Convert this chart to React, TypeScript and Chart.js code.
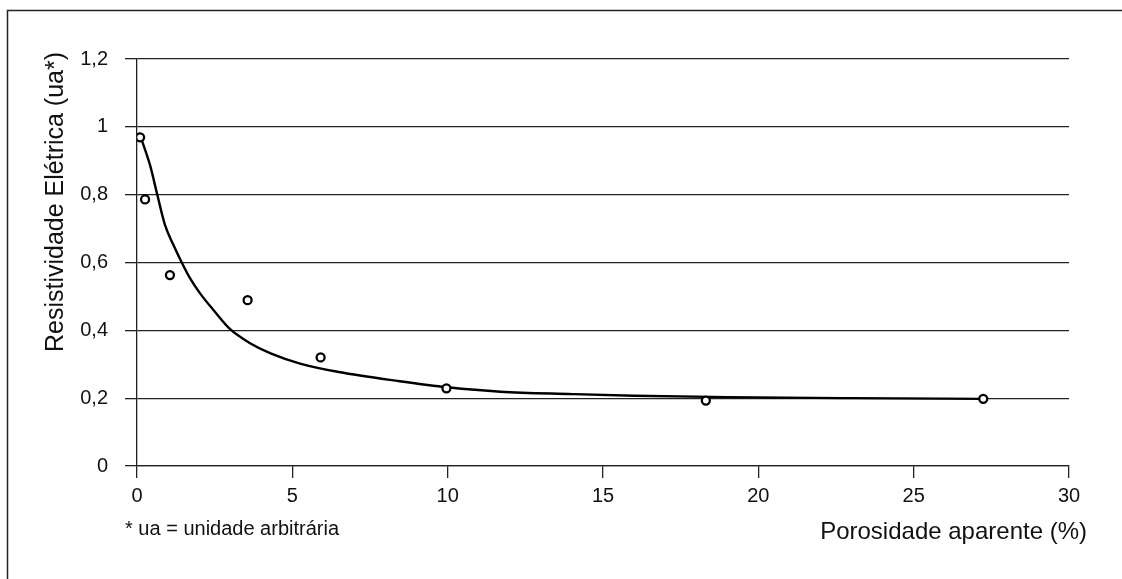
import React, { useEffect, useRef } from "react";
import { Chart, registerables } from "chart.js";

Chart.register(...registerables);

const porosity = [0.1, 0.26, 1.06, 3.56, 5.91, 9.96, 18.31, 27.24];
const resistivity = [0.969, 0.786, 0.563, 0.489, 0.32, 0.229, 0.193, 0.198];

const trendX = [0.12, 0.42, 0.65, 0.9, 1.17, 1.44, 1.71, 2.03, 2.46, 2.99, 3.64, 4.3, 5.25, 6.5, 8.46, 10.0, 11.7, 14.0, 16.0, 19.0, 23.0, 27.24];
const trendY = [0.97, 0.887, 0.801, 0.711, 0.652, 0.6, 0.553, 0.509, 0.46, 0.404, 0.362, 0.332, 0.302, 0.277, 0.25, 0.232, 0.219, 0.212, 0.207, 0.203, 0.2, 0.198];

const xTicks = [0, 5, 10, 15, 20, 25, 30];
const yTicks = [0, 0.2, 0.4, 0.6, 0.8, 1, 1.2];

const xTitle = "Porosidade aparente (%)";
const yTitle = "Resistividade Elétrica (ua*)";
const footnote = "* ua = unidade arbitrária";

const FONT = "'Liberation Sans', Arial, sans-serif";
const INK = "#111";

const annotPlugin = {
  id: "annot",
  afterDraw(chart: any) {
    const ctx = chart.ctx as CanvasRenderingContext2D;
    const area = chart.chartArea;
    ctx.save();
    // frame
    ctx.strokeStyle = "#222";
    ctx.lineWidth = 1.5;
    ctx.beginPath();
    ctx.moveTo(7.5, chart.height);
    ctx.lineTo(7.5, 10.5);
    ctx.lineTo(chart.width, 10.5);
    ctx.stroke();
    ctx.fillStyle = INK;
    // x title
    ctx.font = `24px ${FONT}`;
    ctx.textAlign = "right";
    ctx.textBaseline = "alphabetic";
    ctx.fillText(xTitle, area.right + 18, area.bottom + 73);
    // footnote
    ctx.font = `20px ${FONT}`;
    ctx.textAlign = "left";
    ctx.fillText(footnote, area.left - 12, area.bottom + 69);
    // y title
    ctx.font = `25px ${FONT}`;
    ctx.translate(63, 202);
    ctx.rotate(-Math.PI / 2);
    ctx.textAlign = "center";
    ctx.fillText(yTitle, 0, 0);
    ctx.restore();
  },
};

export default function App() {
  const ref = useRef<HTMLCanvasElement | null>(null);
  useEffect(() => {
    if (!ref.current) return;
    const chart = new Chart(ref.current, {
      type: "scatter",
      data: {
        datasets: [
          {
            label: "trend",
            data: trendX.map((x, i) => ({ x, y: trendY[i] })),
            showLine: true,
            borderColor: "#000",
            borderWidth: 2.4,
            pointRadius: 0,
            cubicInterpolationMode: "monotone",
            order: 2,
          },
          {
            label: "dados",
            data: porosity.map((x, i) => ({ x, y: resistivity[i] })),
            showLine: false,
            pointRadius: 4,
            pointBorderWidth: 2.3,
            pointBorderColor: "#000",
            pointBackgroundColor: "#fff",
            order: 1,
          },
        ],
      },
      options: {
        animation: false,
        responsive: true,
        maintainAspectRatio: false,
        layout: { padding: { left: 0, top: 59, right: 53, bottom: 0 } },
        plugins: { legend: { display: false }, tooltip: { enabled: false } },
        scales: {
          x: {
            type: "linear",
            min: 0,
            max: 30,
            afterBuildTicks: (s: any) => {
              s.ticks = xTicks.map((v) => ({ value: v }));
            },
            afterFit: (s: any) => {
              s.height = 113;
            },
            grid: {
              display: true,
              drawOnChartArea: false,
              drawTicks: true,
              tickLength: 12,
              color: "#222",
              lineWidth: 1.3,
            },
            border: { display: true, color: "#222", width: 1.3 },
            ticks: {
              color: INK,
              font: { family: FONT, size: 20 },
              padding: 6,
              maxRotation: 0,
              callback: (v: any) => String(v),
            },
          },
          y: {
            type: "linear",
            min: 0,
            max: 1.2,
            afterBuildTicks: (s: any) => {
              s.ticks = yTicks.map((v) => ({ value: v }));
            },
            afterFit: (s: any) => {
              s.width = 137;
            },
            grid: {
              display: true,
              drawOnChartArea: true,
              drawTicks: true,
              tickLength: 12,
              color: "#222",
              lineWidth: 1.3,
            },
            border: { display: true, color: "#222", width: 1.3 },
            ticks: {
              color: INK,
              font: { family: FONT, size: 20 },
              padding: 17,
              callback: (v: any) => String(Math.round(v * 10) / 10).replace(".", ","),
            },
          },
        },
      },
      plugins: [annotPlugin],
    });
    return () => chart.destroy();
  }, []);
  return (
    <div style={{ position: "fixed", left: 0, top: 0, width: 1122, height: 579, background: "#fff" }}>
      <canvas ref={ref} />
    </div>
  );
}
